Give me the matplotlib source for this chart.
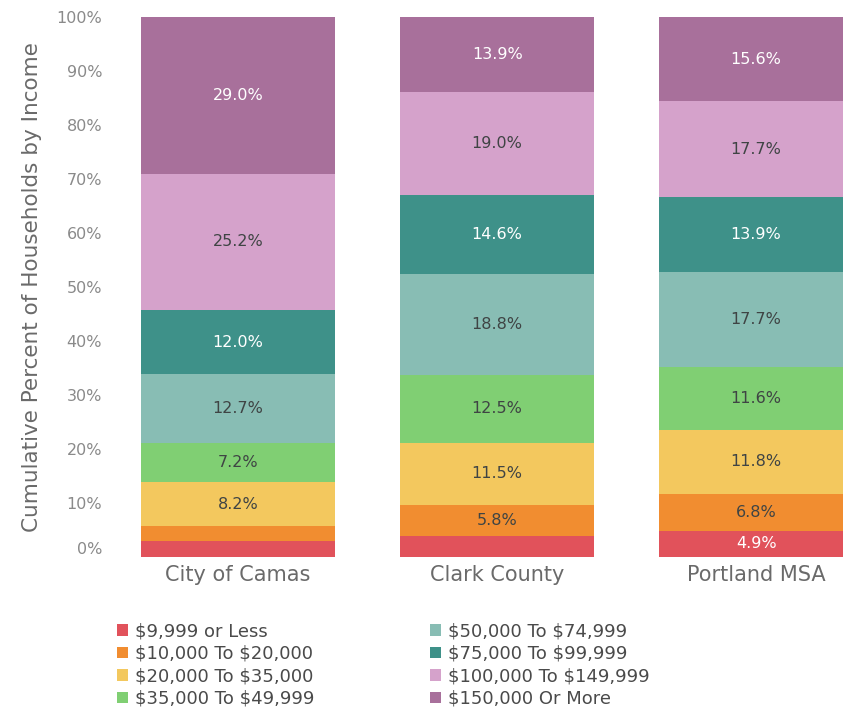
import matplotlib

matplotlib.use("Agg")
import matplotlib.pyplot as plt
import numpy as np
from matplotlib.ticker import PercentFormatter

# Income shares (percent of households) per area, bottom bracket first.
areas = ["City of Camas", "Clark County", "Portland MSA"]
brackets = [
    "$9,999 or Less",
    "$10,000 To $20,000",
    "$20,000 To $35,000",
    "$35,000 To $49,999",
    "$50,000 To $74,999",
    "$75,000 To $99,999",
    "$100,000 To $149,999",
    "$150,000 Or More",
]
camas = [2.9, 2.8, 8.2, 7.2, 12.7, 12.0, 25.2, 29.0]
clark = [3.9, 5.8, 11.5, 12.5, 18.8, 14.6, 19.0, 13.9]
portland = [4.9, 6.8, 11.8, 11.6, 17.7, 13.9, 17.7, 15.6]

# Which segments got a value label in the original, per area.
labelled = {
    "City of Camas": [False, False, True, True, True, True, True, True],
    "Clark County": [False, True, True, True, True, True, True, True],
    "Portland MSA": [True, True, True, True, True, True, True, True],
}

colors = ["#e1525b", "#f18d30", "#f3c85e", "#80cf73",
          "#88bdb4", "#3e9189", "#d5a2cb", "#a8709b"]
# white text on the darker segments
light_text = [True, False, False, False, False, True, False, True]

plt.rcParams["font.family"] = ["DejaVu Sans"]
plt.rcParams["text.parse_math"] = False  # dollar signs are literal

fig = plt.figure(figsize=(8.43, 7.13), dpi=100)
ax = fig.add_axes([141 / 843, 1 - 557 / 713, 1 - 141 / 843, (557 - 17) / 713])

data = np.array([camas, clark, portland])
x = np.arange(len(areas))
width = 0.75
bottom = np.zeros(len(areas))
for i, name in enumerate(brackets):
    vals = data[:, i]
    ax.bar(x, vals, width, bottom=bottom, color=colors[i], label=name, linewidth=0)
    for j, area in enumerate(areas):
        if labelled[area][i]:
            ax.text(x[j], bottom[j] + vals[j] / 2, f"{vals[j]:.1f}%",
                    ha="center", va="center", fontsize=11.5,
                    color="white" if light_text[i] else "#3f4444")
    bottom += vals

ax.set_xlim(-width / 2, -width / 2 + (843 - 141) / 259)
ax.set_ylim(0, 100)
ax.set_yticks(np.arange(0, 101, 10))
ax.yaxis.set_major_formatter(PercentFormatter(decimals=0))
ax.set_xticks(x)
ax.set_xticklabels(areas, fontsize=15, color="#6a6a6a")
ax.tick_params(axis="y", labelsize=11.5, labelcolor="#8a8a8a", length=0, pad=28)
ax.tick_params(axis="x", length=0, pad=6)
ax.get_yticklabels()[0].set_verticalalignment("bottom")
for spine in ax.spines.values():
    spine.set_visible(False)
ax.set_ylabel("Cumulative Percent of Households by Income", fontsize=15.5,
              color="#6a6a6a", labelpad=10)

fig.legend(loc="upper left", bbox_to_anchor=(101 / 843, 1 - 606 / 713), ncol=2,
           frameon=False, fontsize=13, labelcolor="#4a4a4a",
           handlelength=0.6, handleheight=0.6, handletextpad=0.4,
           columnspacing=6.4, labelspacing=0.25)

fig.savefig("out.png", dpi=100)
